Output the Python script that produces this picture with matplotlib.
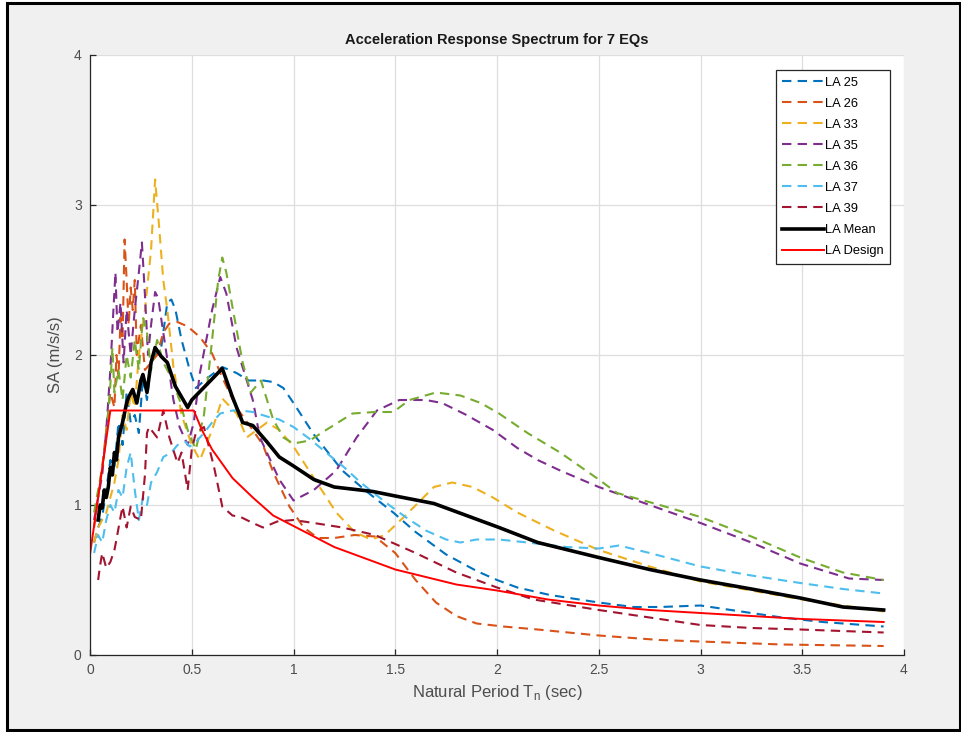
import matplotlib
matplotlib.use("Agg")
import matplotlib.pyplot as plt
from matplotlib.patches import Rectangle

plt.rcParams['font.family'] = ['Liberation Sans', 'DejaVu Sans']

# ---------------- data ----------------
t25 = [0.02, 0.04, 0.06, 0.08, 0.10, 0.12, 0.14, 0.16, 0.18, 0.20, 0.22, 0.24, 0.26, 0.28, 0.30,
       0.32, 0.35, 0.38, 0.40, 0.42, 0.45, 0.49, 0.52, 0.58, 0.65, 0.72, 0.78, 0.85, 0.90, 0.95,
       1.00, 1.10, 1.24, 1.35, 1.49, 1.60, 1.75, 1.90, 2.00, 2.10, 2.26, 2.50, 2.67, 2.80, 3.00,
       3.20, 3.40, 3.60, 3.90]
sa25 = [0.75, 0.85, 0.92, 1.10, 1.30, 1.25, 1.55, 1.40, 1.75, 1.55, 1.60, 1.48, 1.85, 1.70, 1.95,
        2.00, 2.05, 2.35, 2.37, 2.30, 2.10, 1.90, 1.78, 1.85, 1.92, 1.88, 1.83, 1.83, 1.82, 1.78,
        1.68, 1.47, 1.23, 1.10, 0.95, 0.82, 0.67, 0.56, 0.50, 0.45, 0.40, 0.35, 0.32, 0.32, 0.33,
        0.29, 0.25, 0.22, 0.19]

t26 = [0.02, 0.04, 0.06, 0.08, 0.10, 0.12, 0.13, 0.14, 0.15, 0.16, 0.17, 0.18, 0.19, 0.20, 0.21,
       0.22, 0.23, 0.25, 0.27, 0.30, 0.33, 0.36, 0.39, 0.43, 0.48, 0.54, 0.60, 0.65, 0.72, 0.80,
       0.85, 0.90, 0.98, 1.05, 1.12, 1.20, 1.30, 1.40, 1.50, 1.60, 1.70, 1.80, 1.90, 2.03, 2.20,
       2.50, 2.80, 3.00, 3.40, 3.90]
sa26 = [0.85, 1.05, 1.25, 1.50, 1.75, 1.65, 2.00, 1.85, 2.25, 2.10, 2.77, 2.50, 2.20, 2.45, 2.30,
        2.50, 2.00, 2.20, 1.90, 1.95, 2.00, 2.15, 2.21, 2.22, 2.19, 2.12, 2.01, 1.85, 1.65, 1.50,
        1.40, 1.22, 0.99, 0.85, 0.78, 0.78, 0.80, 0.79, 0.68, 0.50, 0.35, 0.26, 0.21, 0.19, 0.17,
        0.13, 0.10, 0.09, 0.07, 0.06]

t33 = [0.02, 0.04, 0.06, 0.08, 0.10, 0.12, 0.14, 0.16, 0.18, 0.20, 0.22, 0.24, 0.27, 0.30, 0.32,
       0.34, 0.36, 0.38, 0.41, 0.45, 0.50, 0.54, 0.60, 0.65, 0.72, 0.77, 0.87, 0.93, 1.00, 1.10,
       1.21, 1.30, 1.38, 1.45, 1.55, 1.69, 1.78, 1.88, 1.98, 2.10, 2.28, 2.50, 2.75, 2.90, 3.00,
       3.50, 3.90]
sa33 = [0.75, 0.85, 0.90, 0.95, 1.05, 1.15, 1.30, 1.60, 1.50, 1.75, 1.65, 2.00, 2.30, 2.70, 3.17,
        2.85, 2.50, 2.30, 1.92, 1.60, 1.40, 1.30, 1.50, 1.71, 1.61, 1.45, 1.55, 1.50, 1.39, 1.18,
        0.95, 0.82, 0.77, 0.80, 0.93, 1.12, 1.15, 1.12, 1.05, 0.95, 0.83, 0.70, 0.59, 0.53, 0.49,
        0.37, 0.29]

t35 = [0.02, 0.04, 0.06, 0.08, 0.10, 0.115, 0.125, 0.135, 0.15, 0.165, 0.18, 0.20, 0.22, 0.24,
       0.255, 0.27, 0.285, 0.30, 0.32, 0.335, 0.36, 0.41, 0.44, 0.48, 0.51, 0.54, 0.60, 0.64, 0.67,
       0.72, 0.80, 0.835, 0.93, 1.00, 1.10, 1.21, 1.31, 1.41, 1.52, 1.65, 1.73, 1.85, 1.98, 2.10,
       2.20, 2.31, 2.50, 2.75, 3.00, 3.25, 3.49, 3.73, 3.90]
sa35 = [0.90, 1.05, 1.20, 1.50, 1.90, 2.30, 2.55, 2.15, 2.35, 1.95, 2.30, 2.00, 2.30, 2.55,
        2.75, 2.40, 2.00, 2.20, 2.42, 2.38, 2.15, 1.70, 1.52, 1.40, 1.55, 1.88, 2.30, 2.52, 2.41,
        2.05, 1.70, 1.45, 1.17, 1.03, 1.10, 1.23, 1.45, 1.63, 1.70, 1.70, 1.68, 1.60, 1.50, 1.38,
        1.30, 1.23, 1.12, 1.00, 0.88, 0.75, 0.61, 0.51, 0.50]

t36 = [0.02, 0.04, 0.06, 0.08, 0.10, 0.11, 0.12, 0.14, 0.16, 0.18, 0.20, 0.22, 0.24, 0.26, 0.28,
       0.30, 0.33, 0.36, 0.40, 0.44, 0.48, 0.52, 0.56, 0.60, 0.63, 0.65, 0.67, 0.70, 0.75, 0.79,
       0.84, 0.90, 0.95, 1.00, 1.08, 1.16, 1.29, 1.40, 1.49, 1.57, 1.70, 1.82, 1.92, 2.01, 2.15,
       2.31, 2.50, 2.59, 2.80, 3.00, 3.25, 3.49, 3.70, 3.90]
sa36 = [0.95, 1.10, 1.25, 1.45, 1.80, 2.05, 1.75, 1.90, 1.70, 2.00, 1.85, 2.10, 1.90, 2.25, 2.15,
        1.90, 2.10, 1.95, 1.85, 1.70, 1.50, 1.37, 1.60, 2.10, 2.50, 2.65, 2.55, 2.32, 1.95, 1.75,
        1.83, 1.57, 1.45, 1.41, 1.43, 1.50, 1.61, 1.62, 1.62, 1.70, 1.75, 1.73, 1.68, 1.61, 1.48,
        1.35, 1.17, 1.08, 1.00, 0.92, 0.79, 0.65, 0.55, 0.50]

t37 = [0.02, 0.04, 0.06, 0.08, 0.10, 0.12, 0.14, 0.16, 0.18, 0.20, 0.22, 0.24, 0.26, 0.28, 0.30,
       0.33, 0.36, 0.40, 0.43, 0.47, 0.49, 0.52, 0.56, 0.60, 0.64, 0.70, 0.74, 0.80, 0.87, 0.93,
       1.00, 1.08, 1.16, 1.25, 1.33, 1.45, 1.55, 1.65, 1.75, 1.82, 1.90, 2.01, 2.15, 2.34, 2.50,
       2.60, 2.75, 3.00, 3.25, 3.49, 3.70, 3.90]
sa37 = [0.68, 0.80, 0.75, 0.90, 1.00, 0.95, 1.10, 1.05, 1.25, 1.35, 1.10, 0.90, 1.05, 1.00, 1.15,
        1.22, 1.32, 1.35, 1.40, 1.42, 1.39, 1.42, 1.48, 1.55, 1.61, 1.63, 1.63, 1.62, 1.59, 1.57,
        1.52, 1.44, 1.35, 1.25, 1.15, 1.02, 0.92, 0.83, 0.77, 0.75, 0.77, 0.77, 0.75, 0.72, 0.71,
        0.73, 0.68, 0.59, 0.53, 0.48, 0.44, 0.41]

t39 = [0.04, 0.05, 0.06, 0.08, 0.10, 0.12, 0.13, 0.15, 0.16, 0.18, 0.20, 0.22, 0.25, 0.27, 0.28,
       0.29, 0.33, 0.36, 0.39, 0.43, 0.45, 0.48, 0.50, 0.52, 0.56, 0.61, 0.65, 0.70, 0.74, 0.80,
       0.85, 0.92, 1.00, 1.10, 1.24, 1.40, 1.60, 1.80, 2.00, 2.18, 2.50, 2.75, 3.00, 3.25, 3.49,
       3.90]
sa39 = [0.50, 0.60, 0.68, 0.58, 0.62, 0.70, 0.77, 0.92, 0.99, 0.85, 0.99, 0.92, 0.90, 1.20, 1.48,
        1.52, 1.45, 1.63, 1.45, 1.28, 1.35, 1.10, 1.37, 1.48, 1.52, 1.25, 0.99, 0.93, 0.92, 0.88,
        0.85, 0.89, 0.90, 0.88, 0.85, 0.80, 0.68, 0.55, 0.45, 0.37, 0.30, 0.25, 0.20, 0.18, 0.17,
        0.15]

t_mean = [0.04, 0.05, 0.06, 0.07, 0.08, 0.09, 0.10, 0.11, 0.12, 0.13, 0.14, 0.15, 0.16, 0.18,
          0.19, 0.21, 0.23, 0.25, 0.26, 0.28, 0.30, 0.32, 0.35, 0.38, 0.42, 0.48, 0.50, 0.65, 0.70,
          0.75, 0.80, 0.87, 0.93, 1.00, 1.10, 1.20, 1.39, 1.50, 1.69, 1.85, 2.01, 2.20, 2.50, 2.75,
          3.00, 3.25, 3.49, 3.70, 3.90]
sa_mean = [0.90, 1.00, 0.98, 1.10, 1.05, 1.12, 1.25, 1.20, 1.35, 1.30, 1.45, 1.50, 1.55, 1.68,
           1.72, 1.77, 1.68, 1.83, 1.87, 1.75, 1.95, 2.05, 1.99, 1.95, 1.79, 1.65, 1.70, 1.91, 1.72,
           1.55, 1.53, 1.42, 1.32, 1.26, 1.17, 1.12, 1.09, 1.06, 1.01, 0.93, 0.85, 0.75, 0.65, 0.57,
           0.50, 0.44, 0.38, 0.32, 0.30]

t_design = [0.00, 0.10, 0.51, 0.55, 0.60, 0.70, 0.80, 0.90, 1.00, 1.20, 1.50, 1.80, 2.00, 2.25,
            2.50, 2.75, 3.00, 3.50, 3.90]
sa_design = [0.67, 1.63, 1.63, 1.50, 1.37, 1.18, 1.05, 0.93, 0.86, 0.72, 0.57, 0.47, 0.43, 0.37,
             0.33, 0.30, 0.28, 0.24, 0.22]

series = [("LA 25", t25, sa25, "#0072BD"),
          ("LA 26", t26, sa26, "#D95319"),
          ("LA 33", t33, sa33, "#EDB120"),
          ("LA 35", t35, sa35, "#7E2F8E"),
          ("LA 36", t36, sa36, "#77AC30"),
          ("LA 37", t37, sa37, "#4DBEEE"),
          ("LA 39", t39, sa39, "#A2142F")]

x_ticks = [0, 0.5, 1, 1.5, 2, 2.5, 3, 3.5, 4]
x_tick_labels = ["0", "0.5", "1", "1.5", "2", "2.5", "3", "3.5", "4"]
y_ticks = [0, 1, 2, 3, 4]
y_tick_labels = ["0", "1", "2", "3", "4"]

# ---------------- figure ----------------
W, H = 962, 732
fig = plt.figure(figsize=(W / 100, H / 100), dpi=100, facecolor="white")
fig.patches.append(Rectangle((7 / W, 2 / H), (960 - 7) / W, (729 - 2) / H,
                             transform=fig.transFigure, facecolor="#f0f0f0",
                             edgecolor="black", linewidth=2.2, zorder=-5))

ax = fig.add_axes([90 / W, (H - 655) / H, (904 - 90) / W, (655 - 55) / H])
ax.set_zorder(1)
ax.set_facecolor("white")

for name, t, sa, c in series:
    ax.plot(t, sa, color=c, lw=1.5, linestyle=(0, (4.5, 3)), label=name)
ax.plot(t_mean, sa_mean, color="black", lw=2.6, label="LA Mean")
ax.plot(t_design, sa_design, color="red", lw=1.4, label="LA Design")

ax.set_xlim(0, 4)
ax.set_ylim(0, 4)
ax.set_xticks(x_ticks)
ax.set_xticklabels(x_tick_labels)
ax.set_yticks(y_ticks)
ax.set_yticklabels(y_tick_labels)
ax.grid(True, color="#dedede", lw=0.9)
ax.set_axisbelow(True)
for s in ["top", "right"]:
    ax.spines[s].set_visible(False)
for s in ["left", "bottom"]:
    ax.spines[s].set_color("#262626")
    ax.spines[s].set_linewidth(0.9)
ax.tick_params(direction="in", length=4, width=0.9, colors="#262626", labelsize=10,
               labelcolor="#4d4d4d", pad=6)

ax.set_title("Acceleration Response Spectrum for 7 EQs", fontsize=10.5, fontweight="bold",
             color="#1a1a1a", pad=8)
ax.set_xlabel("Natural Period T$_{\\mathregular{n}}$ (sec)", fontsize=12, color="#4d4d4d",
              labelpad=4)
ax.set_ylabel("SA (m/s/s)", fontsize=12, color="#4d4d4d", labelpad=8)

leg = ax.legend(loc="upper right", bbox_to_anchor=(0.983, 0.975), fontsize=9.3,
                handlelength=3.2, handletextpad=0.1, labelspacing=0.7, borderpad=0.5,
                fancybox=False, framealpha=1, edgecolor="#262626", borderaxespad=0)
leg.get_frame().set_linewidth(0.9)

fig.savefig("out.png", dpi=100, facecolor=fig.get_facecolor())
